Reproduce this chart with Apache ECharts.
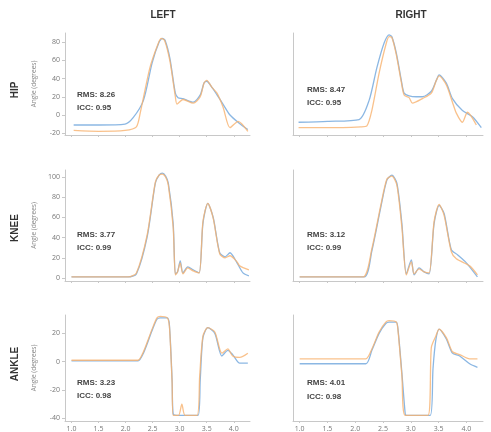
<!DOCTYPE html>
<html>
<head>
<meta charset="utf-8">
<script src="https://cdn.jsdelivr.net/npm/echarts@6/dist/echarts.min.js"></script>
<style>
  html, body { margin: 0; background: #fff; }
  #main { width: 491px; height: 432px; }
</style>
</head>
<body>
<div id="main"></div>
<script>
  // tick labels
  const xTicks = [1.0, 1.5, 2.0, 2.5, 3.0, 3.5, 4.0]
  const hipTicks = [-20, 0, 20, 40, 60, 80]
  const kneeTicks = [0, 20, 40, 60, 80, 100]
  const ankleTicks = [-40, -20, 0, 20]
  const colTitles = ['LEFT', 'RIGHT']
  const rowTitles = ['HIP', 'KNEE', 'ANKLE']

  // stats text per panel (row-major: hip L, hip R, knee L, ...)
  const rmsLabels = ['RMS: 8.26', 'RMS: 8.47', 'RMS: 3.77', 'RMS: 3.12', 'RMS: 3.23', 'RMS: 4.01']
  const iccLabels = ['ICC: 0.95', 'ICC: 0.95', 'ICC: 0.99', 'ICC: 0.99', 'ICC: 0.98', 'ICC: 0.98']

  // HIP
  const hipLeftBlue = [[1.04,-11],[1.5,-11],[1.99,-10],[2.14,-3],[2.33,16],[2.49,57],[2.62,80],[2.68,84],[2.73,82],[2.82,62],[2.92,24],[2.97,19],[3.06,18],[3.25,14],[3.38,22],[3.45,35],[3.5,37],[3.6,30],[3.69,22],[3.8,12],[3.93,0],[4.1,-9],[4.26,-16]]
  const hipLeftOrange = [[1.04,-17],[1.5,-18],[1.99,-17],[2.2,-13],[2.27,2],[2.45,52],[2.6,78],[2.66,84],[2.72,82],[2.82,59],[2.92,20],[2.95,12],[3.06,17],[3.25,13],[3.38,20],[3.45,35],[3.5,38],[3.6,30],[3.69,24],[3.8,9],[3.93,-14],[4.08,-7],[4.26,-18]]
  const hipRightBlue = [[0.98,-8],[1.5,-7],[2.07,-5],[2.25,16],[2.39,52],[2.52,79],[2.61,88],[2.66,86],[2.74,68],[2.83,38],[2.88,24],[2.97,21],[3.1,20],[3.21,20],[3.37,26],[3.46,38],[3.51,44],[3.64,35],[3.75,18],[3.93,5],[4.11,-2],[4.27,-14]]
  const hipRightOrange = [[0.98,-14],[1.5,-14],[2.1,-13],[2.21,-12],[2.3,5],[2.43,46],[2.56,79],[2.61,86],[2.66,85],[2.74,66],[2.83,36],[2.88,22],[2.97,19],[3.03,13],[3.21,18],[3.37,24],[3.46,38],[3.51,43],[3.64,33],[3.75,14],[3.82,2],[3.93,-8],[4.02,3],[4.18,-11]]

  // KNEE
  const kneeLeftBlue = [[1.0,1],[1.5,1],[2.05,1],[2.2,4],[2.4,41],[2.55,94],[2.62,102],[2.68,104],[2.74,101],[2.79,94],[2.88,54],[2.92,4],[2.96,6],[3.01,17],[3.06,5],[3.15,11],[3.25,8],[3.36,5],[3.43,54],[3.52,74],[3.62,60],[3.74,25],[3.84,21],[3.93,25],[4.06,15],[4.17,5],[4.28,2]]
  const kneeLeftOrange = [[1.0,1],[1.5,1],[2.05,1],[2.2,5],[2.4,43],[2.55,95],[2.62,102],[2.68,103],[2.74,100],[2.79,92],[2.88,50],[2.92,3],[2.96,6],[3.01,15],[3.06,4],[3.15,10],[3.25,7],[3.36,5],[3.43,56],[3.52,74],[3.62,59],[3.74,24],[3.84,20],[3.93,22],[4.06,16],[4.11,12],[4.28,8]]
  const kneeRightBlue = [[1.0,1],[1.5,1],[2.16,1],[2.3,27],[2.46,70],[2.57,97],[2.66,102],[2.75,94],[2.84,54],[2.92,4],[3.01,18],[3.06,3],[3.15,10],[3.24,6],[3.33,4],[3.42,54],[3.51,72],[3.6,64],[3.73,28],[3.84,23],[4.0,15],[4.2,1]]
  const kneeRightOrange = [[1.0,1],[1.5,1],[2.14,1],[2.3,29],[2.46,72],[2.57,98],[2.66,101],[2.75,92],[2.84,50],[2.92,3],[3.01,16],[3.06,4],[3.15,9],[3.24,6],[3.33,5],[3.42,56],[3.51,73],[3.6,62],[3.73,26],[3.82,19],[4.06,12],[4.2,3]]

  // ANKLE
  const ankleLeftBlue = [[1.0,0.5],[1.5,0.5],[2.0,0.5],[2.23,0.5],[2.33,6],[2.49,22],[2.58,30],[2.64,31],[2.77,31],[2.81,26],[2.86,-13],[2.88,-37],[2.95,-38],[3.34,-38],[3.38,-13],[3.43,17],[3.52,24],[3.65,20],[3.78,4],[3.89,8],[3.98,5],[4.11,-1],[4.26,-1]]
  const ankleLeftOrange = [[1.0,1],[1.5,1],[2.0,1],[2.23,1],[2.33,7],[2.49,23],[2.58,31],[2.64,32],[2.77,31],[2.81,25],[2.86,-15],[2.88,-38],[2.98,-38],[3.04,-30],[3.1,-38],[3.32,-38],[3.37,-10],[3.43,18],[3.52,24],[3.65,21],[3.78,6],[3.89,9],[3.98,4],[4.11,3],[4.26,6]]
  const ankleRightBlue = [[1.0,-1.5],[1.5,-1.5],[2.19,-1.5],[2.3,8],[2.43,20],[2.55,27],[2.61,28],[2.74,28],[2.77,23],[2.84,-8],[2.9,-37],[2.92,-38],[3.35,-38],[3.4,-5],[3.45,15],[3.51,23],[3.64,16],[3.75,6],[3.88,4],[4.06,-1.5],[4.2,-4]]
  const ankleRightOrange = [[1.0,2],[1.5,2],[2.19,2],[2.3,9],[2.43,21],[2.55,28],[2.61,29],[2.74,28],[2.77,22],[2.84,-10],[2.9,-38],[3.31,-38],[3.37,10],[3.45,18],[3.51,23],[3.64,17],[3.75,7],[3.88,5],[4.06,2],[4.2,2]]

  const blue = 'rgba(110,165,220,0.8)'
  const orange = 'rgba(248,178,110,0.8)'

  const cols = [{ left: 65, width: 185 }, { left: 293, width: 190 }]
  const rows = [
    { top: 33, height: 102, min: -22, max: 90, ticks: hipTicks },
    { top: 170, height: 111, min: -3, max: 107, ticks: kneeTicks },
    { top: 315, height: 106, min: -42, max: 33, ticks: ankleTicks },
  ]
  const lines = [
    [hipLeftBlue, hipLeftOrange], [hipRightBlue, hipRightOrange],
    [kneeLeftBlue, kneeLeftOrange], [kneeRightBlue, kneeRightOrange],
    [ankleLeftBlue, ankleLeftOrange], [ankleRightBlue, ankleRightOrange],
  ]
  const statY = [[95, 108], [90, 103], [235, 248], [235, 248], [383, 396], [383, 397]]

  const grid = []
  const xAxis = []
  const yAxis = []
  const series = []
  const graphic = []

  rows.forEach((r, ri) => {
    cols.forEach((c, ci) => {
      const idx = ri * 2 + ci
      grid.push({ left: c.left, width: c.width, top: r.top, height: r.height })
      xAxis.push({
        type: 'value',
        gridIndex: idx,
        min: 0.88,
        max: 4.3,
        axisLine: { show: true, onZero: false, lineStyle: { color: '#c8c8c8', width: 1 } },
        axisTick: { show: true, length: 2, customValues: xTicks, lineStyle: { color: '#c8c8c8' } },
        axisLabel: {
          show: ri === 2,
          customValues: xTicks,
          formatter: (v) => v.toFixed(1),
          fontSize: 7,
          color: '#777',
          margin: 4,
        },
        splitLine: { show: false },
      })
      yAxis.push({
        type: 'value',
        gridIndex: idx,
        min: r.min,
        max: r.max,
        name: ci === 0 ? 'Angle (degrees)' : '',
        nameLocation: 'middle',
        nameGap: 27,
        nameTextStyle: { fontSize: 6.5, color: '#888' },
        axisLine: { show: true, onZero: false, lineStyle: { color: '#c8c8c8', width: 1 } },
        axisTick: { show: ci === 0, length: 3, customValues: r.ticks, lineStyle: { color: '#c8c8c8' } },
        axisLabel: { show: ci === 0, customValues: r.ticks, fontSize: 7, color: '#777', margin: 5 },
        splitLine: { show: false },
      })
      series.push({
        type: 'line', xAxisIndex: idx, yAxisIndex: idx, data: lines[idx][0],
        showSymbol: false, smooth: 0.25, lineStyle: { color: blue, width: 1.3 },
      })
      series.push({
        type: 'line', xAxisIndex: idx, yAxisIndex: idx, data: lines[idx][1],
        showSymbol: false, smooth: 0.25, lineStyle: { color: orange, width: 1.3 },
      })
      const sx = ci === 0 ? 77 : 307
      graphic.push({ type: 'text', x: sx, y: statY[idx][0],
        style: { text: rmsLabels[idx], fontSize: 8, fontWeight: 600, fill: '#444', verticalAlign: 'middle' } })
      graphic.push({ type: 'text', x: sx, y: statY[idx][1],
        style: { text: iccLabels[idx], fontSize: 8, fontWeight: 600, fill: '#444', verticalAlign: 'middle' } })
    })
  })

  // column + row titles
  graphic.push({ type: 'text', x: 163, y: 15,
    style: { text: colTitles[0], fontSize: 10, fontWeight: 600, fill: '#333', align: 'center', verticalAlign: 'middle' } })
  graphic.push({ type: 'text', x: 411, y: 15,
    style: { text: colTitles[1], fontSize: 10, fontWeight: 600, fill: '#333', align: 'center', verticalAlign: 'middle' } })
  const rowY = [90, 228, 364]
  rowTitles.forEach((t, i) => {
    graphic.push({ type: 'text', x: 15, y: rowY[i], rotation: Math.PI / 2,
      style: { text: t, fontSize: 10, fontWeight: 'bold', fill: '#333', align: 'center', verticalAlign: 'middle' } })
  })

  const chart = echarts.init(document.getElementById('main'))
  const option = {
    backgroundColor: '#fff',
    animation: false,
    textStyle: { fontFamily: 'Open Sans, sans-serif' },
    grid: grid,
    xAxis: xAxis,
    yAxis: yAxis,
    series: series,
    graphic: graphic,
  }
  chart.setOption(option)
</script>
</body>
</html>
